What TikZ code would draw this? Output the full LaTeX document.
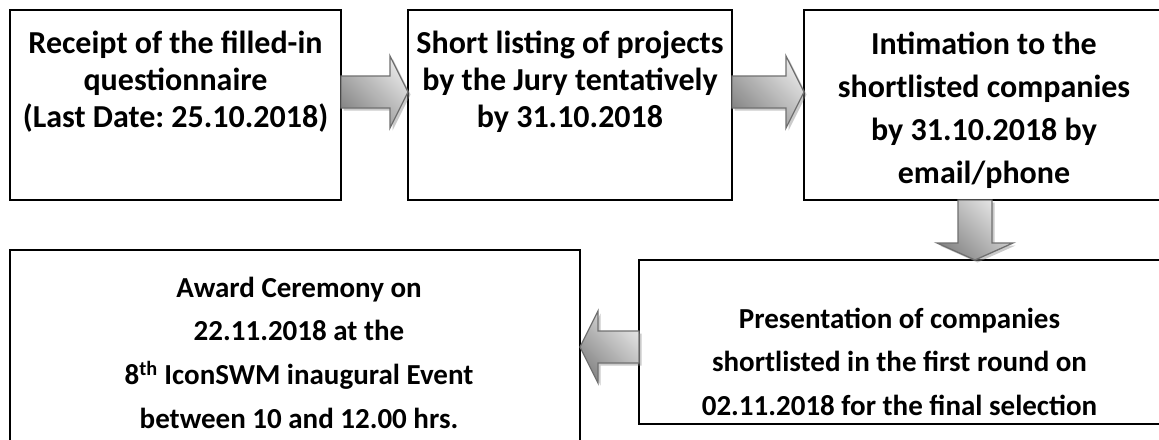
\documentclass[tikz,border=0pt]{standalone}
\usepackage{fontspec}
\setmainfont{Carlito}
\frenchspacing
\usetikzlibrary{calc,shadows}
\definecolor{arrowline}{HTML}{707070}
\definecolor{arrowdark}{HTML}{868686}
\definecolor{arrowlight}{HTML}{E6E6E6}
\tikzset{
  box/.style={draw=black, line width=1.5pt, rectangle, inner sep=0pt, outer sep=0pt},
  txt/.style={anchor=north, align=center, inner sep=0pt, outer sep=0pt},
  bigtxt/.style={txt, font=\fontsize{32}{37}\selectfont\bfseries},
  widetxt/.style={txt, font=\fontsize{32}{43}\selectfont\bfseries},
  lowtxt/.style={txt, font=\fontsize{29}{43.7}\selectfont\bfseries},
  fatarrow/.style={draw=arrowline, line width=1.3pt, line join=miter,
    top color=arrowlight, bottom color=arrowdark, shading angle=-45,
    drop shadow={shadow xshift=2.5pt, shadow yshift=-2.5pt, fill=black!45, opacity=0.45}}
}
\newcommand\rightfat[2]{\path[fatarrow] ($(#1)+(0,-16)$) -- ($(#2)+(-18,-16)$) -- ($(#2)+(-18,-36)$) -- (#2) -- ($(#2)+(-18,36)$) -- ($(#2)+(-18,16)$) -- ($(#1)+(0,16)$) -- cycle;}
\newcommand\leftfat[2]{\path[fatarrow] ($(#1)+(0,-16)$) -- ($(#2)+(18,-16)$) -- ($(#2)+(18,-36)$) -- (#2) -- ($(#2)+(18,36)$) -- ($(#2)+(18,16)$) -- ($(#1)+(0,16)$) -- cycle;}
\newcommand\downfat[2]{\path[fatarrow] ($(#1)+(-17,0)$) -- ($(#2)+(-17,-17)$) -- ($(#2)+(-38,-17)$) -- (#2) -- ($(#2)+(38,-17)$) -- ($(#2)+(17,-17)$) -- ($(#1)+(17,0)$) -- cycle;}
\begin{document}
\begin{tikzpicture}[x=1pt, y=-1pt]
\useasboundingbox[fill=white] (0,0) rectangle (1159,439);
% boxes
\node[box, minimum width=331pt, minimum height=190pt] (b1) at (175.5,105) {};
\node[box, minimum width=324pt, minimum height=190pt] (b2) at (570,105) {};
\node[box, minimum width=360pt, minimum height=190pt] (b3) at (984,105) {};
\node[box, minimum width=521pt, minimum height=164pt] (b4) at (899.5,342) {};
\node[box, minimum width=570pt, minimum height=210pt] (b5) at (295,355) {};
% texts
\node[bigtxt] (t1) at ($(b1.north)+(0,17)$) {\rule{0pt}{26pt}Receipt of the filled-in\\questionnaire\\(Last Date: 25.10.2018)};
\node[bigtxt] (t2) at ($(b2.north)+(0,17)$) {\rule{0pt}{26pt}Short listing of projects\\by the Jury tentatively\\by 31.10.2018};
\node[widetxt] (t3) at ($(b3.north)+(0,18)$) {\rule{0pt}{26pt}Intimation to the\\shortlisted companies\\by 31.10.2018 by\\email/phone};
\node[lowtxt] (t4) at ($(b4.north)+(0,42)$) {\rule{0pt}{26pt}Presentation of companies\\shortlisted in the first round on\\02.11.2018 for the final selection};
\node[lowtxt] (t5) at ($(b5.north)+(4,21)$) {\rule{0pt}{26pt}Award Ceremony on\\22.11.2018 at the\\8\textsuperscript{th} IconSWM inaugural Event\\between 10 and 12.00 hrs.};
% connector end points
\coordinate (a1s) at ($(b1.east)+(0,-13)$);
\coordinate (a1e) at (b2.west |- a1s);
\coordinate (a2s) at (b2.east |- a1s);
\coordinate (a2e) at (b3.west |- a1s);
\coordinate (a3s) at ($(b3.south)+(-9,0)$);
\coordinate (a3e) at (b4.north -| a3s);
\coordinate (a4s) at ($(b4.west)+(0,5)$);
\coordinate (a4e) at (b5.east |- a4s);
% arrows
\rightfat{a1s}{a1e}
\rightfat{a2s}{a2e}
\downfat{a3s}{a3e}
\leftfat{a4s}{a4e}
\end{tikzpicture}
\end{document}
